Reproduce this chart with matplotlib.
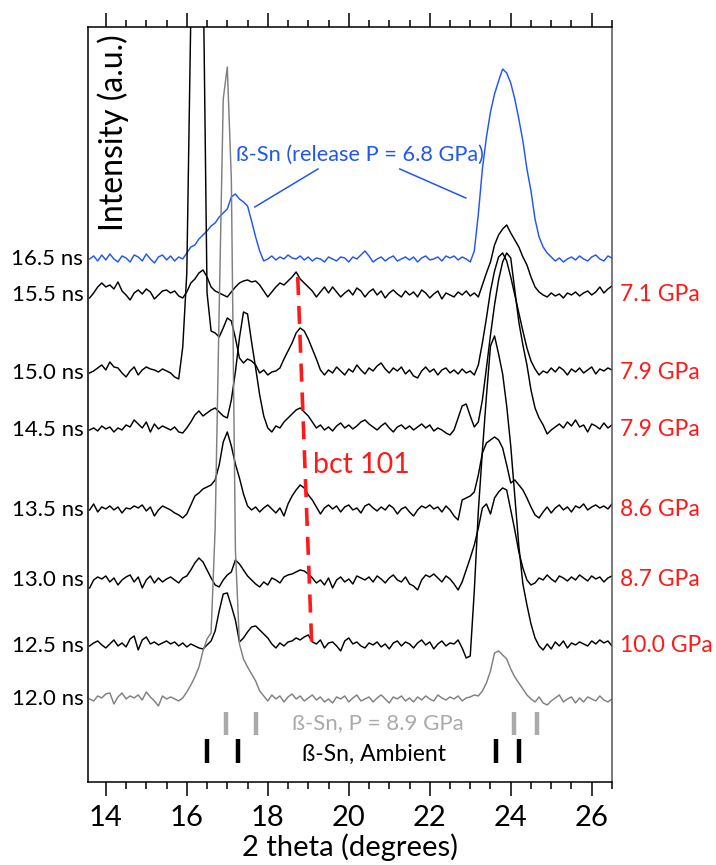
import numpy as np
import matplotlib
matplotlib.use('Agg')
import matplotlib.pyplot as plt
from matplotlib.transforms import blended_transform_factory

plt.rcParams['font.family'] = ['Lato', 'DejaVu Sans']

# 2 theta sampling grid (degrees)
two_theta = np.round(np.arange(13.6, 26.51, 0.1), 1)

times = ['16.5 ns', '15.5 ns', '15.0 ns', '14.5 ns', '13.5 ns', '13.0 ns', '12.5 ns', '12.0 ns']
pressures = ['', '7.1 GPa', '7.9 GPa', '7.9 GPa', '8.6 GPa', '8.7 GPa', '10.0 GPa', '']

# intensities above each trace's baseline (a.u.)
i_165 = [0, 3, -2, 4, -1, 5, 0, -3, 3, 1,
         -3, 4, 2, -2, 5, 0, -4, 2, 4, -1,
         3, -2, 2, 0, 6, 12, 14, 20, 24, 28,
         33, 36, 42, 46, 50, 62, 65, 60, 57, 53,
         38, 22, 8, -2, 0, 3, -1, 2, 0, 4,
         1, 0, 3, -1, 2, -2, 1, 0, -3, 2,
         0, -2, 2, 1, -3, 2, 0, 4, 8, 3,
         -3, 0, 2, -2, 1, 3, -2, 0, 2, -1,
         2, -3, 1, 3, -1, 0, 2, -2, 3, 1,
         3, -1, 2, 0, -3, 8, 45, 90, 122, 147,
         165, 178, 190, 186, 176, 160, 140, 118, 90, 68,
         40, 22, 12, 6, 2, -2, 1, -3, 0, 2,
         -1, 3, 0, -2, 2, 4, 0, -2, 3, 1]

i_155 = [-3, 2, 8, 12, 8, 10, 6, 13, 4, 0,
         -5, 2, 5, 1, 6, 3, -4, 0, 4, 5,
         2, 4, -1, -3, 3, 12, 16, 22, 25, 18,
         8, 4, 2, 0, -2, 3, 8, 12, 14, 15,
         13, 14, 10, 4, -2, 3, 8, 12, 10, 14,
         18, 23, 16, 12, 8, 4, -2, 3, 8, 2,
         8, 3, -2, 2, 5, 0, 7, 4, -2, 3,
         6, 0, 4, -3, 2, 5, 1, -2, 4, 0,
         3, -2, 5, 2, -3, 1, 4, -4, 2, 0,
         -2, 3, 0, 4, -1, 2, -2, 10, 22, 33,
         50, 60, 66, 70, 62, 55, 48, 38, 30, 18,
         8, 3, 0, -2, 2, -1, 1, -3, 2, 0,
         3, -1, 2, 4, 0, 3, 8, 2, 6, 9]

i_150 = [0, 2, 5, 8, 3, 11, 6, 5, 0, -4,
         2, 6, -2, 3, 6, 4, 3, 1, 4, 2,
         0, -4, -6, 26, 100, 360, 520, 540, 420, 80,
         42, 40, 36, 45, 55, 52, 35, 15, 10, 14,
         12, 8, 0, 3, -2, 1, 2, 5, 14, 22,
         30, 40, 45, 42, 34, 24, 14, 3, -2, 3,
         0, 6, 2, -2, 4, 1, 8, 3, -1, 5,
         2, 7, 10, 4, 0, 5, 2, 6, -1, 3,
         -3, -5, 2, 6, 1, 4, -2, 3, 5, 0,
         3, -1, 4, 0, 2, -2, 8, 30, 55, 82,
         102, 116, 120, 112, 96, 78, 60, 42, 25, 12,
         4, -2, 2, 0, 5, 1, 6, 3, -2, 4,
         1, 5, 0, 3, 6, -1, 4, 2, 5, 3]

i_145 = [0, 2, -1, 4, 1, 3, -2, 2, 0, 5,
         3, 10, 6, 2, 8, -2, 6, 1, 4, 2,
         0, 3, -2, -3, 2, 8, 15, 19, 14, 17,
         20, 22, 18, 14, 12, 30, 58, 92, 118, 116,
         88, 62, 35, 14, 2, -2, 4, 2, 8, 12,
         16, 20, 22, 18, 14, 8, 2, 5, 0, 3,
         -1, 4, 7, 2, 5, 1, 4, 8, 10, 6,
         3, 0, 4, 7, 2, -2, 3, 5, 1, 4,
         0, 3, 6, 2, 5, -1, 2, 0, -3, -5,
         0, 12, 24, 26, 14, 3, 8, 30, 62, 95,
         125, 150, 168, 177, 172, 140, 108, 85, 65, 40,
         22, 12, 5, -4, 0, 3, 6, 2, 8, 4,
         10, 3, 5, -2, 6, 4, 1, 7, 2, 5]

i_135 = [0, 6, -2, 3, 1, 4, 0, 3, -3, 2,
         1, 4, 2, 5, -1, 3, -6, 0, 4, 2,
         0, -3, -5, -8, -4, 5, 14, 17, 21, 23,
         25, 30, 45, 68, 78, 64, 46, 32, 16, 4,
         0, 3, -2, 2, 5, 1, -3, 2, -6, 6,
         14, 20, 25, 22, 15, 10, 3, -4, 2, 5,
         1, 4, -2, 3, 5, 0, 2, -3, 4, 6,
         2, -1, 3, 0, 5, 2, -4, 1, 3, -2,
         -6, 0, 4, 2, 5, 1, 3, -2, 4, 0,
         -6, -10, 10, 12, 14, 18, 35, 57, 67, 70,
         73, 70, 62, 45, 27, 30, 25, 20, 12, 3,
         -5, -8, -2, 3, -3, 2, 5, 0, 3, -2,
         4, 2, 6, 0, 3, 5, 2, 4, 1, 6]

i_130 = [-8, 0, 3, 1, 4, -2, 2, -5, 0, 3,
         5, -2, 3, -8, 0, 4, -3, 2, -2, 1,
         3, 0, -3, 2, 4, 10, 17, 22, 18, 10,
         2, -5, -7, 0, 5, 8, 20, 16, 10, 4,
         0, -4, -7, -2, -5, 2, 0, -3, 3, 5,
         6, 8, 10, 9, 6, 2, -3, 0, -5, 2,
         -8, 0, 3, -2, 1, -4, 4, 2, 0, 3,
         -2, 4, 1, -3, 2, 5, 0, -2, 3, -4,
         -6, -10, 0, 5, 3, 6, 2, -2, 4, 1,
         -4, -10, -2, 10, 22, 35, 52, 72, 76, 66,
         82, 88, 92, 90, 70, 50, 28, 12, 0, -5,
         -3, 2, 0, 5, 1, -2, 4, 2, -1, 3,
         0, 5, 2, -1, 4, 1, 3, -2, 2, 4]

i_125 = [0, 3, 5, 1, -2, 2, 6, 0, 3, -1,
         7, 10, -4, 6, 9, 2, 4, 1, 3, 5,
         2, 4, 0, 3, -1, 2, 0, -2, -3, 1,
         5, 15, 35, 52, 53, 40, 26, 4, 8, 14,
         19, 20, 16, 12, 8, 2, -2, 3, 0, 4,
         5, 8, 6, 9, 11, 4, 2, 6, -2, 3,
         4, 0, -5, 5, 8, 2, 4, 0, -2, 3,
         1, 4, -1, 2, -3, 3, 5, 0, 4, 2,
         -2, 3, 6, 1, 4, -3, 2, 5, 0, 3,
         2, 6, -2, -12, -10, 55, 135, 195, 250, 300,
         310, 292, 272, 240, 200, 150, 100, 62, 41, 22,
         8, 0, -4, 2, -3, 4, 0, 5, -2, 3,
         1, 4, 2, 0, 5, 2, 6, 3, 5, 0]

i_120 = [0, -2, 3, 1, 5, 6, -5, 2, 6, 0,
         3, 1, 4, -1, 7, 2, -2, -7, 3, 0,
         2, 0, -2, 1, 7, 14, 22, 32, 48, 60,
         66, 170, 390, 600, 632, 520, 150, 55, 40, 32,
         25, 18, 8, 3, -2, 4, 0, 3, -3, 2,
         5, 0, 3, -2, 1, 4, -1, 2, -3, 0,
         -4, 2, 0, 3, -3, 1, 4, -2, 0, 2,
         -3, 1, 4, 0, -4, 2, 0, 3, -2, 1,
         -3, 2, -1, 3, 0, -2, 4, 1, -1, 2,
         0, 3, -2, 1, 2, 4, 3, 8, 16, 28,
         46, 48, 44, 40, 30, 22, 16, 10, 4, 0,
         -3, 2, -4, -6, -2, 1, 4, -3, 0, 2,
         -4, 1, -3, 2, 0, -2, 3, -1, -3, 0]

traces = [i_165, i_155, i_150, i_145, i_135, i_130, i_125, i_120]

# reference peak positions of beta-Sn
sn_89gpa = [16.97, 17.71, 24.08, 24.65]
sn_ambient = [16.5, 17.26, 23.63, 24.2]

# bct 101 guide line (2 theta at top and bottom)
bct_x = [18.74, 19.09]

# layout: vertical offset of each trace
offsets = [523, 487, 409, 352, 272, 202, 136, 83]
colors = ['#2156f2', 'black', 'black', 'black', 'black', 'black', 'black', '#808080']
red = '#ff1a1a'

fig = plt.figure(figsize=(7.16, 8.65), dpi=100)
ax = fig.add_axes([0.1229, 0.0960, 0.7318, 0.8728])

for y, off, c in zip(traces, offsets, colors):
    ax.plot(two_theta, np.array(y) + off, color=c, lw=1.05)

ax.set_xlim(13.56, 26.5)
ax.set_ylim(0, 755)

lab_tr = blended_transform_factory(ax.transAxes, ax.transData)
for t, p, off in zip(times, pressures, offsets):
    ax.text(-0.009, off, t, transform=lab_tr, ha='right', va='center', fontsize=16)
    if p:
        ax.text(1.015, off, p, transform=lab_tr, ha='left', va='center',
                fontsize=16.5, color=red)

# bct 101 guide
ax.plot(bct_x, [505, 132], color=red, lw=2.6, ls=(0, (5, 3)))
ax.text(19.12, 317, 'bct 101', color=red, fontsize=20.5, va='center')

# release label
ax.text(17.21, 627, 'ß-Sn (release P = 6.8 GPa)', color=colors[0], fontsize=15.7, va='center')
ax.plot([17.68, 19.24], [575, 613], color=colors[0], lw=1.1)
ax.plot([21.26, 22.89], [613, 584], color=colors[0], lw=1.1)

# reference ticks
ax.vlines(sn_89gpa, 47, 70, color='#aaaaaa', lw=3.2)
ax.vlines(sn_ambient, 19, 43, color='black', lw=3.2)
ax.text(18.6, 59, 'ß-Sn, P = 8.9 GPa', color='#aaaaaa', fontsize=16, va='center')
ax.text(18.84, 28, 'ß-Sn, Ambient', color='black', fontsize=16.5, va='center')

ax.text(0.048, 0.99, 'Intensity (a.u.)', transform=ax.transAxes, rotation=90,
        ha='center', va='top', fontsize=23)

ax.set_xticks(np.arange(14, 27, 2))
ax.set_xticks(np.arange(14, 26.6, 0.5), minor=True)
ax.set_yticks([])
ax.tick_params(axis='x', which='both', top=True, bottom=True, direction='out',
               labelsize=21, width=1.1, pad=6.5)
ax.tick_params(axis='x', which='major', length=10)
ax.tick_params(axis='x', which='minor', length=5)
ax.set_xlabel('2 theta (degrees)', fontsize=21, labelpad=1.5)

for s in ax.spines.values():
    s.set_linewidth(1.1)
ax.spines['right'].set_color('#555555')

fig.savefig('out.png', dpi=100)
